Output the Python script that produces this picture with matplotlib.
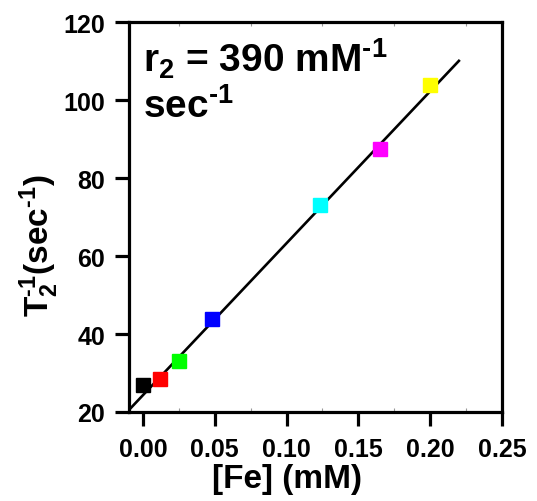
import numpy as np
import matplotlib
matplotlib.use("Agg")
import matplotlib.pyplot as plt
from matplotlib.ticker import MultipleLocator

plt.rcParams['font.family'] = ['Liberation Sans', 'DejaVu Sans']
plt.rcParams['font.weight'] = 'bold'
plt.rcParams['mathtext.fontset'] = 'custom'
plt.rcParams['mathtext.rm'] = 'Liberation Sans:bold'
plt.rcParams['mathtext.bf'] = 'Liberation Sans:bold'
plt.rcParams['mathtext.default'] = 'rm'
plt.rcParams['xtick.labelsize'] = 18
plt.rcParams['ytick.labelsize'] = 18
plt.rcParams['xtick.major.size'] = 10
plt.rcParams['ytick.major.size'] = 10
plt.rcParams['xtick.major.width'] = 2.3
plt.rcParams['ytick.major.width'] = 2.3
plt.rcParams['xtick.major.pad'] = 8
plt.rcParams['ytick.major.pad'] = 7

# iron concentration vs. relaxation rate
fe_mM = [0.0, 0.012, 0.025, 0.048, 0.123, 0.165, 0.200]
r2_rate = [26.8, 28.4, 33.0, 43.8, 73.2, 87.6, 103.8]
point_colors = ['#000000', '#ff0000', '#00ff00', '#0000ff', '#00ffff', '#ff00ff', '#ffff00']
x_ticks = [0.0, 0.05, 0.10, 0.15, 0.20, 0.25]
x_ticklabels = ['0.00', '0.05', '0.10', '0.15', '0.20', '0.25']

# linear fit: slope = relaxivity r2
slope = 390.0
intercept = 24.3
fit_x = [-0.01, 0.22]

fig = plt.figure(figsize=(5.37, 5.02), dpi=100)
ax = fig.add_axes([0.2393, 0.1773, 0.6955, 0.7763])

xs = np.array(fit_x)
ax.plot(xs, intercept + slope * xs, color='black', lw=1.9, zorder=2)
for x, y, c in zip(fe_mM, r2_rate, point_colors):
    ax.plot(x, y, marker='s', ms=10.6, color=c, mec=c, ls='none', zorder=3)

ax.set_xlim(-0.01, 0.25)
ax.set_ylim(20, 120)
ax.set_xticks(x_ticks)
ax.set_xticklabels(x_ticklabels)
ax.xaxis.set_minor_locator(MultipleLocator(0.025))
ax.yaxis.set_major_locator(MultipleLocator(20))

for s in ax.spines.values():
    s.set_linewidth(2.3)

ax.tick_params(axis='x', which='major', top=False)
ax.tick_params(axis='x', which='minor', direction='in', length=3, width=0.8,
               color='#999999', top=True)
ax.tick_params(axis='y', which='minor', left=False)

ax.set_xlabel('[Fe] (mM)', fontsize=24, fontweight='bold', labelpad=0)
ax.xaxis.set_label_coords(0.424, -0.13)
ax.set_ylabel(r'T$_2^{\text{-1}}$(sec$^{\text{-1}}$)', fontsize=24, fontweight='bold')
ax.yaxis.set_label_coords(-0.18, 0.43)

ax.text(0.04, 0.965, r'r$_2$ = 390 mM$^{\text{-1}}$' + '\n' + r'sec$^{\text{-1}}$',
        transform=ax.transAxes, fontsize=28, fontweight='bold',
        va='top', ha='left', linespacing=1.25)

fig.savefig('out.png', dpi=100)
